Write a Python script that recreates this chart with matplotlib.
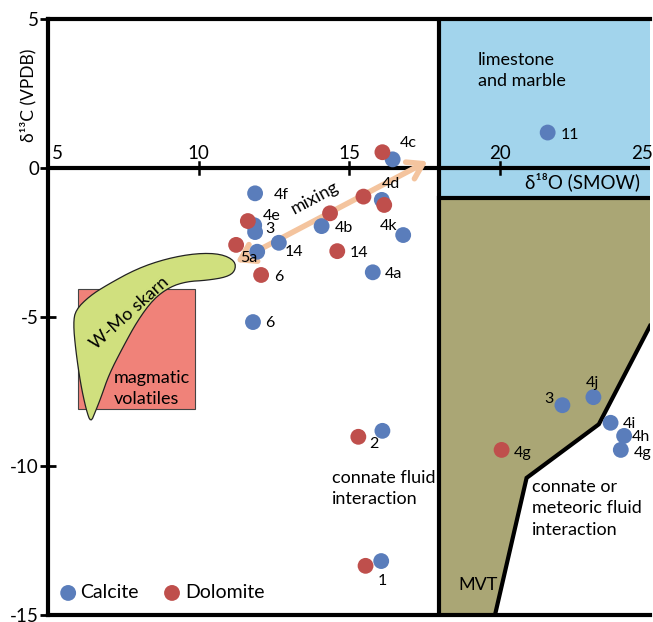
import numpy as np
import matplotlib.pyplot as plt
from matplotlib.patches import Polygon, Rectangle, FancyArrowPatch

plt.rcParams['font.family'] = ['Lato', 'DejaVu Sans']

# isotope data: d18O (SMOW) vs d13C (VPDB)
calcite_o = [16.45, 11.88, 11.85, 11.88, 11.95, 12.67, 14.09, 16.09, 16.8, 15.79,
             11.81, 16.11, 16.07, 21.6, 22.09, 23.12, 23.69, 24.14, 24.03]
calcite_c = [0.29, -0.85, -1.92, -2.15, -2.81, -2.51, -1.95, -1.07, -2.25, -3.5,
             -5.17, -8.82, -13.19, 1.19, -7.96, -7.69, -8.55, -8.99, -9.46]
dolomite_o = [16.11, 15.48, 16.17, 14.37, 14.61, 11.64, 11.25, 12.08, 15.31, 15.55, 20.07]
dolomite_c = [0.53, -0.96, -1.24, -1.52, -2.79, -1.78, -2.58, -3.59, -9.02, -13.35, -9.46]

# sample numbers written next to the points
sample_ids = ['4c', '4f', '4e', '3', '5a', '14', '6', '4b', '14', '4d', '4k', '4a', '6',
              '2', '1', '11', '3', '4j', '4i', '4h', '4g', '4g']
id_x = [16.69, 12.51, 12.15, 12.21, 11.38, 12.87, 12.51, 14.53, 15.03, 16.09, 16.03, 16.2,
        12.21, 15.67, 15.95, 22.03, 21.49, 22.87, 24.11, 24.39, 24.45, 20.46]
id_y = [0.83, -0.91, -1.61, -2.06, -3.03, -2.81, -3.65, -2.02, -2.84, -0.54, -1.95, -3.56,
        -5.2, -9.26, -13.85, 1.11, -7.76, -7.2, -8.59, -9.02, -9.55, -9.55]

xticks = [5, 10, 15, 20, 25]
yticks = [5, 0, -5, -10, -15]

# field outlines
mvt_x = [18, 25, 25, 23.3, 20.9, 19.85, 18]
mvt_y = [-1, -1, -5.3, -8.6, -10.4, -15, -15]
skarn_x = [6.42, 6.27, 6.08, 5.92, 5.84, 5.92, 6.38, 6.95, 7.95, 8.94, 9.94, 10.75,
           11.22, 11.22, 10.94, 10.27, 9.61, 9.05, 8.50, 7.97, 7.48, 7.03, 6.76, 6.58]
skarn_y = [-8.55, -8.12, -7.23, -6.11, -5.21, -4.76, -4.30, -3.93, -3.38, -3.04, -2.86, -2.88,
           -3.12, -3.46, -3.66, -3.77, -3.81, -3.99, -4.40, -5.13, -6.03, -6.92, -7.70, -8.16]


def chaikin(xs, ys, n=2):
    pts = np.column_stack([xs, ys])
    for _ in range(n):
        nxt = np.roll(pts, -1, axis=0)
        q = 0.75 * pts + 0.25 * nxt
        r = 0.25 * pts + 0.75 * nxt
        pts = np.empty((2 * len(q), 2))
        pts[0::2] = q
        pts[1::2] = r
    return pts


fig = plt.figure(figsize=(6.53, 6.22), dpi=100)
ax = fig.add_axes([48 / 653, 7 / 622, 602 / 653, 596 / 622])
ax.set_xlim(5, 25)
ax.set_ylim(-15, 5)

for side in ['left', 'bottom', 'top']:
    ax.spines[side].set_linewidth(3)
ax.spines['right'].set_visible(False)

# field backgrounds
ax.add_patch(Rectangle((18, -1), 7, 6, facecolor='#a2d4ec', edgecolor='none', zorder=0))
ax.add_patch(Polygon(np.column_stack([mvt_x, mvt_y]), closed=True,
                     facecolor='#aaa675', edgecolor='none', zorder=0))
ax.add_patch(Rectangle((6.0, -8.1), 3.9, 4.05, facecolor='#f08279', edgecolor='#444444',
                       linewidth=0.8, zorder=1))
ax.add_patch(Polygon(chaikin(skarn_x, skarn_y), closed=True, facecolor='#d0e07e',
                     edgecolor='#222222', linewidth=0.9, zorder=2))

# boundary lines
ax.plot([5, 25], [0, 0], color='black', lw=3, zorder=3, solid_capstyle='butt')
ax.plot([18, 18], [-15, 5], color='black', lw=3, zorder=3)
ax.plot([18, 25], [-1, -1], color='black', lw=3, zorder=3)
ax.plot(mvt_x[2:6], mvt_y[2:6], color='black', lw=3, zorder=3, solid_joinstyle='miter')

# x axis drawn through zero
for t in xticks[1:-1]:
    ax.plot([t, t], [-0.2, 0.2], color='black', lw=1.8, zorder=3)
for t in xticks:
    if t == xticks[0]:
        ax.text(t + 0.12, 0.2, str(t), ha='left', va='bottom', fontsize=13.5)
    elif t == xticks[-1]:
        ax.text(t - 0.62, 0.2, str(t), ha='left', va='bottom', fontsize=13.5, clip_on=False)
    else:
        ax.text(t, 0.2, str(t), ha='center', va='bottom', fontsize=13.5)
ax.set_xticks([])

ax.set_yticks(yticks)
ax.set_yticklabels([str(t) for t in yticks], fontsize=13.5)
ax.tick_params(axis='y', direction='inout', length=11, width=2, pad=1)

ax.text(-0.033, 0.872, 'δ¹³C (VPDB)', transform=ax.transAxes, rotation=90,
        ha='center', va='center', fontsize=12.5)
ax.text(20.85, -0.47, 'δ¹⁸O (SMOW)', ha='left', va='center', fontsize=13.5, zorder=4)

# mixing trend
arrow = FancyArrowPatch((11.16, -3.2), (17.69, 0.27),
                        arrowstyle='<->,head_length=7,head_width=4.5',
                        color='#f4c49e', lw=4, zorder=3.5, mutation_scale=1.5)
ax.add_patch(arrow)
ax.text(13.87, -1.0, 'mixing', rotation=28, ha='center', va='center', fontsize=13, zorder=4)

# data points
ax.scatter(calcite_o, calcite_c, s=130, color='#5a7dbb', edgecolors='none', zorder=5)
ax.scatter(dolomite_o, dolomite_c, s=130, color='#bf4f4c', edgecolors='none', zorder=6)

for s, x, y in zip(sample_ids, id_x, id_y):
    ax.text(x, y, s, ha='left', va='center', fontsize=11.5, zorder=7)

# field names
ax.text(19.27, 3.28, 'limestone\nand marble', ha='left', va='center', fontsize=13,
        linespacing=1.4)
ax.text(7.72, -4.87, 'W-Mo skarn', rotation=42, ha='center', va='center', fontsize=13, zorder=3)
ax.text(7.19, -7.39, 'magmatic\nvolatiles', ha='left', va='center', fontsize=13,
        linespacing=1.4, zorder=3)
ax.text(14.42, -10.75, 'connate fluid\ninteraction', ha='left', va='center', fontsize=13,
        linespacing=1.4)
ax.text(21.07, -11.42, 'connate or\nmeteoric fluid\ninteraction', ha='left', va='center',
        fontsize=13, linespacing=1.4)
ax.text(18.63, -13.99, 'MVT', ha='left', va='center', fontsize=13)

# legend
ax.scatter([5.67], [-14.26], s=130, color='#5a7dbb', edgecolors='none', zorder=5)
ax.text(6.06, -14.26, 'Calcite', ha='left', va='center', fontsize=14)
ax.scatter([9.12], [-14.26], s=130, color='#bf4f4c', edgecolors='none', zorder=5)
ax.text(9.55, -14.26, 'Dolomite', ha='left', va='center', fontsize=14)

fig.savefig('out.png', dpi=100)
